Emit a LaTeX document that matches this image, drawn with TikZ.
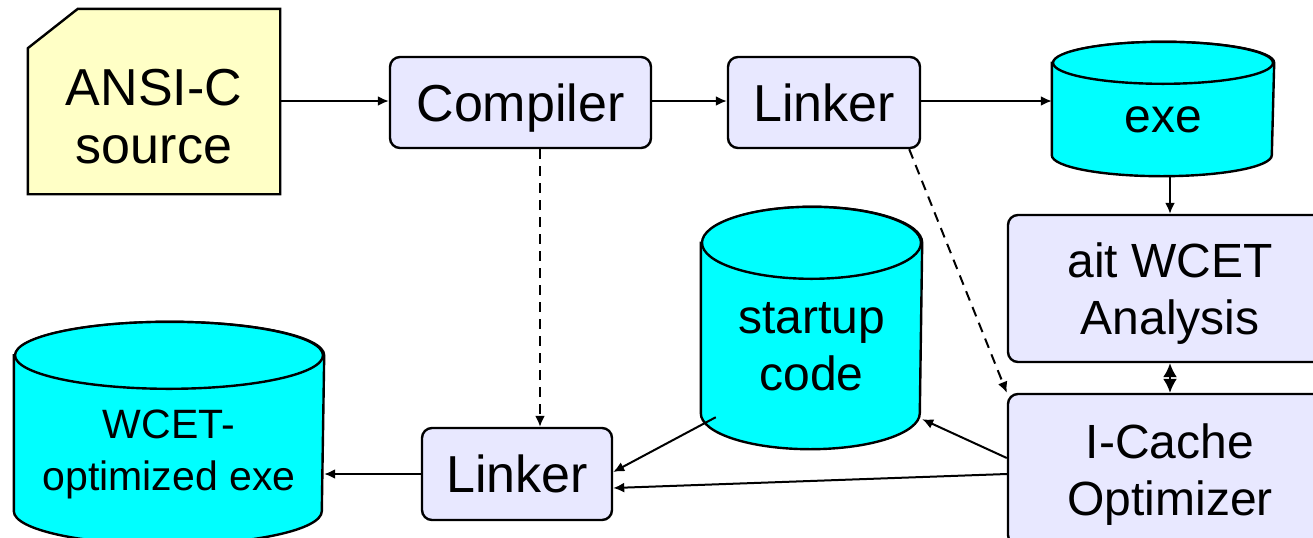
\documentclass[tikz,border=0pt]{standalone}
\usepackage{fontspec}
\setmainfont{Liberation Sans}
\usetikzlibrary{arrows.meta,calc,backgrounds}
\definecolor{srcYellow}{HTML}{FFFFC6}
\definecolor{toolLav}{HTML}{E8E8FF}
\definecolor{fileCyan}{HTML}{00FFFF}
\tikzset{
  kBox/.style={line width=1.2pt,align=center,inner sep=2pt,text depth=0pt},
  kSrc/.style={kBox,font=\fontsize{26}{29}\selectfont,text height=61.5pt},
  kTool/.style={kBox,draw,fill=toolLav,rounded corners=5pt,
        font=\fontsize{26}{29}\selectfont},
  kBig/.style={kTool,font=\fontsize{24}{28.5}\selectfont},
  kFile/.style={kBox,font=\fontsize{24}{28.5}\selectfont},
  kEdge/.style={line width=1.2pt,fill=fileCyan},
  kArrow/.style={line width=1pt,-{Latex[length=5.5pt,width=5pt]}},
  kDash/.style={kArrow,dash pattern=on 5pt off 3.5pt},
  kBoth/.style={line width=1pt,{Latex[length=7pt,width=7pt]}-{Latex[length=7pt,width=7pt]}},
}
% cylinder drawn behind a text node: node, half width, end radius
\newcommand\kCyl[3]{%
  \begin{scope}[on background layer]
    \draw[kEdge] (#1.north west) -- ($(#1.south west)+(0,-#3)$)
      arc[start angle=180,end angle=0,x radius=#2,y radius=#3]
      -- (#1.north east)
      arc[start angle=0,end angle=-180,x radius=#2,y radius=#3] -- cycle;
    \draw[kEdge] (#1.north) ellipse[x radius=#2,y radius=#3];
  \end{scope}}
\begin{document}
\begin{tikzpicture}[x=0.5pt,y=-0.5pt]
\useasboundingbox (0,0) rectangle (1313,537);
% front end
\node[kSrc,minimum width=125pt,minimum height=91.5pt] (src) at (154,101.5) {ANSI-C\\source};
\begin{scope}[on background layer]
  \draw[line width=1.2pt,fill=srcYellow] (src.south west) -- ++(0,-146)
    -- ($(src.north west)+(50,0)$) -- (src.north east) -- (src.south east) -- cycle;
\end{scope}
\node[kTool,minimum width=130.5pt,minimum height=45.5pt] (comp) at (520.5,102.5) {Compiler};
\node[kTool,minimum width=96pt,minimum height=45.5pt] (link) at (824,102.5) {Linker};
\node[kFile,minimum width=110pt,minimum height=55.5pt] (exe) at (1163,119.5) {exe};
\kCyl{exe}{110}{21}
% analysis and optimisation
\node[kBig,minimum width=162pt,minimum height=73.5pt] (ait) at (1170,288.5) {ait WCET\\Analysis};
\node[kBig,minimum width=162pt,minimum height=75.5pt] (opt) at (1170,469.5) {I-Cache\\Optimizer};
\node[kFile,minimum width=109.5pt,minimum height=102pt] (start) at (811.5,346) {startup\\code};
\kCyl{start}{109.5}{36}
% back end
\node[kTool,minimum width=95pt,minimum height=46pt] (link2) at (517,474) {Linker};
\node[kFile,minimum width=154pt,minimum height=93.5pt,
  font=\fontsize{20.5}{26}\selectfont] (wexe) at (169,450) {WCET-\\optimized exe};
\kCyl{wexe}{154}{33.5}

\draw[kArrow] (src.east |- 0,101) -- (comp.west |- 0,101);
\draw[kArrow] (comp.east |- 0,101) -- (link.west |- 0,101);
\draw[kArrow] (link.east |- 0,101) -- (exe.west |- 0,101);
\draw[kArrow] (exe.south -| 1170,0) -- (ait.north -| 1170,0);
\draw[kBoth] (ait) -- (opt);
\draw[kDash] (comp.south -| 540,0) -- (link2.north -| 540,0);
\draw[kDash] ($(link.south east)+(-12,0)$) -- (opt.north west);
\draw[kArrow] (opt.west |- 0,458) -- ($(start.south east)+(0,-30)$);
\draw[kArrow] (opt.west |- 0,474) -- (link2.east |- 0,488);
\draw[kArrow] ($(start.south west)+(15,-32)$) -- (link2.east |- 0,472);
\draw[kArrow] (link2.west) -- (link2.west -| wexe.east);
\end{tikzpicture}
\end{document}
